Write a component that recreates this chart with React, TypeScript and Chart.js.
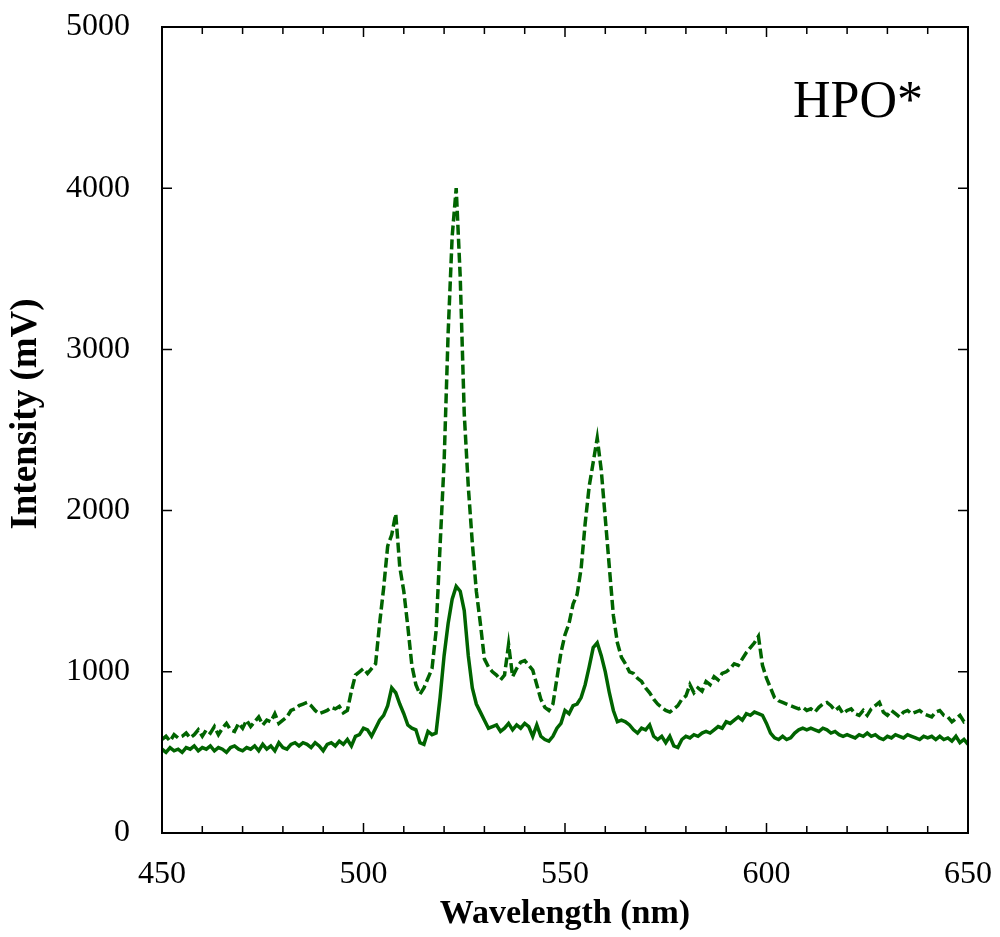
import React, { useEffect, useRef } from "react";
import { Chart, registerables } from "chart.js";

Chart.register(...registerables);

const wavelengths: number[] = Array.from({ length: 201 }, (_, i) => 450 + i);

// dashed series (upper curve), one value per nm from 450 to 650
const dashedValues: number[] = [
  580, 600, 570, 610, 590, 600, 620, 590, 610, 640,
  600, 640, 620, 660, 610, 650, 680, 640, 630, 680,
  650, 700, 660, 690, 720, 670, 700, 690, 740, 680,
  700, 720, 760, 770, 790, 800, 810, 790, 760, 740,
  750, 760, 780, 770, 785, 745, 760, 880, 980, 1000,
  1020, 990, 1020, 1050, 1300, 1520, 1780, 1850, 1980, 1650,
  1500, 1280, 1040, 920, 860, 900, 960, 1020, 1250, 1780,
  2300, 3100, 3700, 4000, 3450, 2600, 2150, 1800, 1500, 1300,
  1080, 1030, 1000, 980, 950, 980, 1170, 970, 1020, 1060,
  1070, 1040, 1010, 920, 830, 780, 760, 800, 960, 1120,
  1230, 1300, 1420, 1480, 1640, 1920, 2150, 2300, 2450, 2250,
  1950, 1650, 1350, 1180, 1090, 1050, 1000, 990, 960, 940,
  900, 870, 830, 800, 780, 760, 750, 770, 790, 830,
  850, 920, 870, 900, 880, 940, 920, 970, 950, 990,
  1000, 1020, 1050, 1040, 1080, 1120, 1150, 1180, 1220, 1040,
  960, 900, 840, 820, 810, 800, 790, 780, 770, 780,
  760, 770, 750, 780, 800, 810, 790, 760, 780, 740,
  760, 770, 740, 730, 760, 730, 770, 790, 810, 750,
  730, 760, 740, 720, 750, 760, 740, 750, 760, 740,
  730, 720, 750, 760, 730, 720, 690, 710, 730, 690,
  700,
];

// solid series (lower curve)
const solidValues: number[] = [
  520, 500, 530, 510, 520, 500, 530, 520, 540, 510,
  530, 520, 540, 510, 530, 520, 500, 530, 540, 520,
  510, 530, 520, 540, 510, 550, 520, 540, 510, 560,
  530, 520, 550, 560, 540, 560, 550, 530, 560, 540,
  510, 550, 560, 540, 570, 550, 580, 540, 600, 610,
  650, 640, 600, 650, 700, 730, 790, 900, 870, 800,
  740, 670, 650, 640, 560, 550, 630, 610, 620, 840,
  1100, 1300, 1450, 1530, 1500, 1380, 1100, 900, 800, 750,
  700, 650, 660, 670, 630, 650, 680, 640, 670, 650,
  680, 660, 600, 670, 600, 580, 570, 600, 650, 680,
  760, 740, 790, 800, 840, 920, 1030, 1150, 1180, 1100,
  1000, 870, 760, 690, 700, 690, 670, 640, 620, 650,
  640, 670, 600, 580, 600, 560, 600, 540, 530, 580,
  600, 590, 610, 600, 620, 630, 620, 640, 660, 650,
  690, 680, 700, 720, 700, 740, 730, 750, 740, 730,
  680, 620, 590, 580, 600, 580, 590, 620, 640, 650,
  640, 650, 640, 630, 650, 640, 620, 630, 610, 600,
  610, 600, 590, 610, 600, 620, 600, 610, 590, 580,
  600, 590, 610, 600, 590, 610, 600, 590, 580, 600,
  590, 600, 580, 600, 580, 590, 570, 600, 560, 580,
  550,
];

const xTickMajor: number[] = [450, 500, 550, 600, 650];
const xTickMinor: number[] = [460, 470, 480, 490, 510, 520, 530, 540, 560, 570, 580, 590, 610, 620, 630, 640];
const yTicks: number[] = [0, 1000, 2000, 3000, 4000, 5000];

const xTitle = "Wavelength (nm)";
const yTitle = "Intensity (mV)";
const labelText = "HPO*";

const GREEN = "#006400";
const FONT = "'Liberation Serif', 'Times New Roman', serif";

const framePlugin = {
  id: "framePlugin",
  afterDraw(chart: any) {
    const { ctx, chartArea } = chart;
    const { left, right, top, bottom } = chartArea;
    const xs = chart.scales.x;
    const ys = chart.scales.y;
    ctx.save();
    ctx.strokeStyle = "#000";
    ctx.lineWidth = 2;
    ctx.strokeRect(left, top, right - left, bottom - top);
    ctx.lineWidth = 1.5;
    ctx.beginPath();
    xTickMajor.forEach((v) => {
      const px = xs.getPixelForValue(v);
      ctx.moveTo(px, bottom); ctx.lineTo(px, bottom - 10);
      ctx.moveTo(px, top); ctx.lineTo(px, top + 10);
    });
    xTickMinor.forEach((v) => {
      const px = xs.getPixelForValue(v);
      ctx.moveTo(px, bottom); ctx.lineTo(px, bottom - 7);
      ctx.moveTo(px, top); ctx.lineTo(px, top + 7);
    });
    yTicks.forEach((v) => {
      const py = ys.getPixelForValue(v);
      ctx.moveTo(left, py); ctx.lineTo(left + 10, py);
      ctx.moveTo(right, py); ctx.lineTo(right - 10, py);
    });
    ctx.stroke();

    ctx.fillStyle = "#000";
    ctx.font = `bold 34px ${FONT}`;
    ctx.textAlign = "center";
    ctx.textBaseline = "middle";
    ctx.fillText(xTitle, (left + right) / 2, 914);

    ctx.save();
    ctx.translate(26, 414);
    ctx.rotate(-Math.PI / 2);
    ctx.font = `bold 37px ${FONT}`;
    ctx.fillText(yTitle, 0, 0);
    ctx.restore();

    ctx.font = `52px ${FONT}`;
    ctx.textAlign = "left";
    ctx.textBaseline = "alphabetic";
    ctx.fillText(labelText, 793, 117);
    ctx.restore();
  },
};

const zeroPad = (s: any) => {
  s.paddingLeft = 0;
  s.paddingRight = 0;
  s.paddingTop = 0;
  s.paddingBottom = 0;
};

export default function App() {
  const ref = useRef<HTMLCanvasElement | null>(null);
  useEffect(() => {
    if (!ref.current) return;
    const chart = new Chart(ref.current, {
      type: "line",
      data: {
        datasets: [
          {
            label: "dashed",
            data: wavelengths.map((w, i) => ({ x: w, y: dashedValues[i] })),
            borderColor: GREEN,
            borderWidth: 3.5,
            borderDash: [10, 4],
            pointRadius: 0,
            tension: 0,
            fill: false,
          },
          {
            label: "solid",
            data: wavelengths.map((w, i) => ({ x: w, y: solidValues[i] })),
            borderColor: GREEN,
            borderWidth: 3.5,
            pointRadius: 0,
            tension: 0,
            fill: false,
          },
        ],
      },
      options: {
        animation: false,
        responsive: false,
        devicePixelRatio: 1,
        layout: { padding: { top: 27, right: 32, left: 0, bottom: 0 } },
        plugins: { legend: { display: false }, tooltip: { enabled: false } },
        scales: {
          x: {
            type: "linear",
            min: 450,
            max: 650,
            afterFit: (s: any) => { s.height = 104; zeroPad(s); },
            grid: { display: false, drawTicks: false },
            border: { display: false },
            ticks: {
              stepSize: 50,
              padding: 22,
              color: "#000",
              font: { family: FONT, size: 32 },
              maxRotation: 0,
              callback: (v: any) => String(v),
            },
          },
          y: {
            type: "linear",
            min: 0,
            max: 5000,
            afterFit: (s: any) => { s.width = 162; zeroPad(s); },
            grid: { display: false, drawTicks: false },
            border: { display: false },
            ticks: {
              stepSize: 1000,
              padding: 32,
              color: "#000",
              font: { family: FONT, size: 32 },
              callback: (v: any) => String(v),
            },
          },
        },
      },
      plugins: [framePlugin],
    });
    return () => chart.destroy();
  }, []);
  return (
    <div style={{ position: "fixed", left: 0, top: 0, width: 1000, height: 937, background: "#fff" }}>
      <canvas ref={ref} width={1000} height={937} />
    </div>
  );
}
